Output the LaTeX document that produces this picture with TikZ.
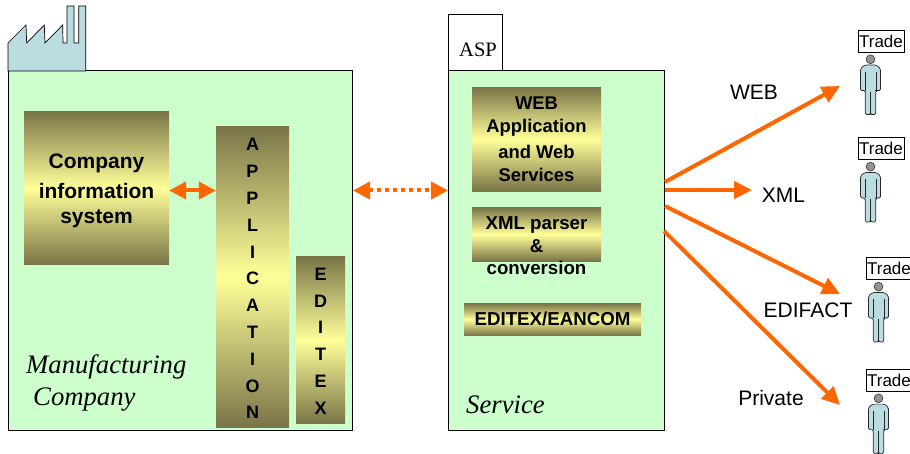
\documentclass[tikz,border=0pt]{standalone}
\usepackage{fontspec}
\setmainfont{Liberation Sans}
\newfontfamily\serifx{Liberation Serif}
\usetikzlibrary{arrows.meta}
\definecolor{panel}{HTML}{CCFFCC}
\definecolor{steel}{HTML}{BBDDE2}
\definecolor{darkol}{HTML}{7A7548}
\definecolor{lightol}{HTML}{FFFF99}
\definecolor{flow}{HTML}{FF6600}
\tikzset{x=1pt,y=-1pt,
  panelbox/.style={draw=black,line width=0.9pt,fill=panel},
  grad/.style={top color=darkol,bottom color=darkol,middle color=lightol,inner sep=0pt,minimum width=#1,align=center},
  flowarrow/.style={draw=flow,line width=4pt,-{Triangle[length=18pt,width=17pt]},shorten >=0pt},
  flowboth/.style={draw=flow,line width=4pt,{Triangle[length=17pt,width=17pt]}-{Triangle[length=17pt,width=17pt]}},
  lbl/.style={font=\fontsize{21}{24}\selectfont,inner sep=0pt},
  ital/.style={font=\fontsize{26.7}{32}\serifx\itshape,inner sep=0pt,anchor=west},
  tradebox/.style={draw=black,line width=0.7pt,fill=white,font=\fontsize{17}{19}\selectfont,inner sep=0pt,minimum width=46pt,minimum height=22pt},
}
\newcommand{\person}[2]{%
 \begin{scope}[shift={(#1,#2)}]
  \path[fill=gray!85,draw=gray!40!black,line width=0.6pt] (0,4.7) circle (4.4);
  \path[fill=steel,draw=gray!30!black,line width=0.7pt,rounded corners=1.5pt] (-6,10.5) -- (6,10.5) -- (10,14) -- (10,36) -- (6,36) -- (5.3,36) -- (5.3,60) -- (0,60) -- (0,36) -- (0,60) -- (-5.3,60) -- (-5.3,36) -- (-10,36) -- (-10,14) -- cycle;
  \draw[gray!30!black,line width=0.7pt] (-5.5,17) -- (-5.5,36) (5.5,17) -- (5.5,36) (0,37) -- (0,60);
 \end{scope}}
\begin{document}
\begin{tikzpicture}
\useasboundingbox (0,0) rectangle (910,454);
% panels
\node[panelbox,minimum width=344pt,minimum height=360pt,inner sep=0pt,anchor=north west] (mfg) at (8,70) {};
\node[panelbox,minimum width=216pt,minimum height=360pt,inner sep=0pt,anchor=north west] (svc) at (448,70) {};
% factory
\path[fill=steel,draw=black,line width=0.7pt] (8,71) -- (8,43) -- (26,25) -- (26.7,43) -- (44.3,25) -- (45,43) -- (62.7,25) -- (63,43) -- (67,43) -- (67,6) -- (74,6) -- (74,43) -- (78.7,43) -- (78.7,6) -- (85.7,6) -- (85.7,71) -- cycle;
% ASP
\node[draw=black,line width=0.7pt,fill=white,inner sep=0pt,minimum width=54pt,minimum height=56pt,anchor=north west] (asp) at (448,14) {};
\node[font=\fontsize{20.5}{22}\serifx,inner sep=0pt] (asptext) at (478,49.5) {ASP};
% left boxes
\node[grad=145pt,minimum height=152.5pt,font=\fontsize{21}{25}\selectfont\bfseries] (cis) at (96.5,187.8) {\rule{0pt}{20pt}Company\\[5pt]information\\system};
\node[grad=73pt,minimum height=300.5pt,font=\fontsize{18}{26.8}\selectfont\bfseries] (app) at (252.5,276.8) {\rule{0pt}{16pt}A\\P\\P\\L\\I\\C\\A\\T\\I\\O\\N};
\node[grad=49pt,minimum height=166.5pt,font=\fontsize{18}{26.8}\selectfont\bfseries] (edi) at (320.5,339.8) {\rule{0pt}{15pt}E\\D\\I\\T\\E\\X};
\node[ital,align=left] (mc) at (26,383) {Manufacturing\\\hspace*{7pt}Company};
% service boxes
\node[grad=129pt,minimum height=103.5pt,font=\fontsize{18.4}{23}\selectfont\bfseries] (web) at (536.5,139.3) {WEB\\Application\\[3pt]and Web\\Services};
\node[grad=129pt,minimum height=53.5pt] (xmlb) at (536.5,234.3) {};
\node[font=\fontsize{18.7}{22.5}\selectfont\bfseries,align=center,inner sep=0pt] (xmlt) at (536.5,246) {XML parser\\\&\\conversion};
\node[grad=177pt,minimum height=31.5pt,font=\fontsize{18.7}{20}\selectfont\bfseries] (eanc) at (552.5,319.3) {EDITEX/EANCOM};
\node[ital] (svct) at (466,405) {Service};
% traders
\node[tradebox] (t1) at (881,41) {Trade};
\node[tradebox] (t2) at (881,148) {Trade};
\node[tradebox] (t3) at (889,268) {Trade};
\node[tradebox] (t4) at (889,380) {Trade};
\person{870.5}{54.6}
\person{870.5}{162}
\person{878.5}{282}
\person{878.5}{393.6}
\coordinate (p1) at (840,86);
\coordinate (p2) at (752,190);
\coordinate (p3) at (840,294);
\coordinate (p4) at (840,405);
\coordinate (s1) at (665,182);
\coordinate (s2) at (665,190);
\coordinate (s3) at (665,206);
\coordinate (s4) at (664,231);
\coordinate (dl) at (353,190.5);
\coordinate (dr) at (448,190.5);
% arrows
\draw[flowboth] (cis.east |- 0,190.5) -- (app.west |- 0,190.5);
\draw[flowboth,dash pattern=on 4pt off 4pt] (dl) -- (dr);
\draw[flowarrow] (s1) -- (p1);
\draw[flowarrow] (s2) -- (p2);
\draw[flowarrow] (s3) -- (p3);
\draw[flowarrow] (s4) -- (p4);
% labels
\node[lbl] (l1) at (754,92) {WEB};
\node[lbl] (l2) at (783.5,195) {XML};
\node[lbl] (l3) at (808,310) {EDIFACT};
\node[lbl] (l4) at (771,398) {Private};
\end{tikzpicture}
\end{document}
